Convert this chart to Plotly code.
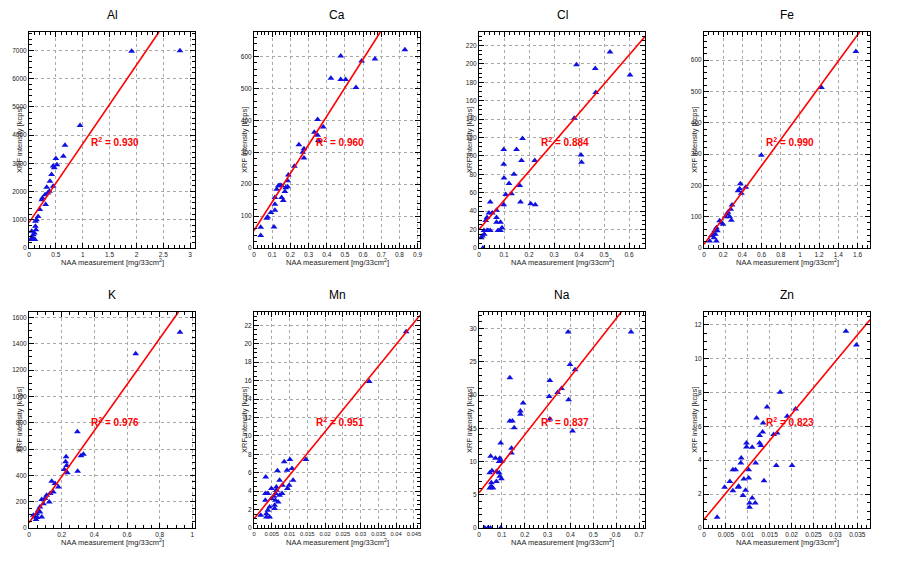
import plotly.graph_objects as go
from plotly.subplots import make_subplots

elements = ["Al", "Ca", "Cl", "Fe", "K", "Mn", "Na", "Zn"]
r2_labels = ["0.930", "0.960", "0.884", "0.990", "0.976", "0.951", "0.837", "0.823"]

# NAA measurement [mg/33cm2] vs XRF intensity [kcps]
al_naa = [1.91, 2.81, 0.95, 0.67, 0.64, 0.50, 0.52, 0.47, 0.42, 0.39, 0.45, 0.33, 0.38, 0.30, 0.31,
          0.25, 0.20, 0.17, 0.14, 0.12, 0.10, 0.07, 0.03, 0.11, 0.05, 0.08, 0.12, 0.24, 0.35, 0.45, 0.13]
al_xrf = [6970, 6990, 4340, 3640, 3250, 3170, 2950, 2840, 2600, 2360, 2190, 2150, 2010, 1890, 1540,
          1770, 1360, 1120, 1000, 770, 530, 350, 300, 300, 590, 470, 945, 1710, 1950, 2900, 650]

ca_naa = [0.830, 0.477, 0.592, 0.665, 0.423, 0.477, 0.504, 0.561, 0.350, 0.332, 0.381, 0.350, 0.247,
          0.275, 0.268, 0.275, 0.222, 0.189, 0.185, 0.143, 0.152, 0.174, 0.185, 0.170, 0.152, 0.161,
          0.125, 0.115, 0.115, 0.115, 0.093, 0.075, 0.070, 0.110, 0.037, 0.037, 0.134, 0.354]
ca_xrf = [621, 602, 586, 592, 532, 528, 528, 503, 403, 363, 379, 353, 324, 311, 300, 282, 256, 229,
          211, 197, 195, 189, 192, 177, 158, 149, 184, 158, 137, 118, 111, 97, 93, 66, 65, 39, 195, 337]

cl_naa = [0.524, 0.390, 0.465, 0.604, 0.467, 0.381, 0.408, 0.410, 0.174, 0.099, 0.150, 0.099, 0.170,
          0.223, 0.100, 0.140, 0.120, 0.163, 0.130, 0.107, 0.099, 0.166, 0.207, 0.225, 0.045, 0.040,
          0.053, 0.032, 0.070, 0.070, 0.086, 0.076, 0.086, 0.092, 0.027, 0.032, 0.020, 0.013, 0.021,
          0.036, 0.016, 0.009, 0.045, 0.070]
cl_xrf = [213, 199, 195, 188, 169, 141, 101, 93, 119, 107, 107, 91, 95, 95, 76, 80, 70, 68, 59, 58,
          47, 50, 48, 47, 50, 38, 38, 33, 41, 28, 28, 19, 19, 22, 30, 19, 19, 13, 15, 19, 0, 11, 19, 33]

fe_naa = [1.583, 1.224, 0.598, 0.379, 0.372, 0.355, 0.390, 0.435, 0.292, 0.278, 0.250, 0.268, 0.285,
          0.240, 0.223, 0.181, 0.163, 0.198, 0.129, 0.111, 0.094, 0.104, 0.077, 0.059, 0.129, 0.118, 0.139]
fe_xrf = [628, 513, 296, 205, 189, 183, 175, 194, 137, 124, 114, 100, 89, 108, 100, 81, 87, 76, 65,
          55, 44, 33, 39, 22, 22, 44, 55]

k_naa = [0.924, 0.653, 0.296, 0.333, 0.318, 0.227, 0.224, 0.216, 0.235, 0.231, 0.298, 0.139, 0.159,
         0.180, 0.149, 0.129, 0.108, 0.098, 0.078, 0.124, 0.088, 0.067, 0.057, 0.047, 0.037, 0.051,
         0.078, 0.067, 0.027, 0.043]
k_xrf = [1488, 1323, 731, 561, 549, 541, 503, 444, 419, 475, 432, 356, 338, 312, 274, 262, 249, 224,
         216, 198, 185, 160, 135, 109, 84, 79, 84, 122, 97, 64]

mn_naa = [0.0428, 0.0324, 0.0146, 0.0101, 0.0085, 0.0066, 0.0107, 0.0093, 0.0033, 0.0110, 0.0072,
          0.0099, 0.0094, 0.0080, 0.0063, 0.0063, 0.0061, 0.0072, 0.0079, 0.0056, 0.0049, 0.0039,
          0.0032, 0.0032, 0.0060, 0.0058, 0.0058, 0.0044, 0.0039, 0.0035, 0.0035, 0.0044, 0.0019,
          0.0068, 0.0049]
mn_xrf = [21.3, 15.9, 7.44, 7.44, 7.19, 6.21, 6.46, 6.28, 5.55, 5.19, 5.19, 4.65, 4.28, 4.65, 4.46,
          4.10, 3.74, 3.56, 3.74, 3.45, 3.19, 3.74, 3.74, 3.01, 3.01, 2.47, 2.11, 2.29, 1.92, 1.56,
          1.20, 1.20, 1.38, 2.83, 4.28]

na_naa = [0.665, 0.390, 0.398, 0.420, 0.310, 0.135, 0.361, 0.344, 0.307, 0.392, 0.193, 0.181, 0.181,
          0.135, 0.146, 0.154, 0.310, 0.409, 0.095, 0.142, 0.142, 0.051, 0.072, 0.091, 0.088, 0.098,
          0.057, 0.076, 0.047, 0.088, 0.091, 0.098, 0.076, 0.054, 0.054, 0.047, 0.061, 0.025, 0.039,
          0.050, 0.095]
na_xrf = [29.5, 29.5, 24.6, 23.8, 22.2, 22.6, 21.0, 20.4, 19.8, 19.3, 18.8, 17.6, 17.1, 16.1, 16.1,
          15.1, 16.4, 14.6, 12.8, 12.0, 11.3, 10.8, 10.5, 10.5, 10.0, 10.0, 8.6, 8.5, 8.3, 8.3, 7.8,
          7.4, 7.0, 6.8, 6.3, 6.0, 6.0, 0, 0, 0, 0]

zn_naa = [0.0324, 0.0348, 0.0174, 0.0144, 0.0209, 0.0190, 0.0120, 0.0135, 0.0159, 0.0167, 0.0127,
          0.0134, 0.0127, 0.0130, 0.0110, 0.0097, 0.0097, 0.0085, 0.0084, 0.0118, 0.0165, 0.0201,
          0.0066, 0.0072, 0.0102, 0.0059, 0.0091, 0.0102, 0.0137, 0.0047, 0.0078, 0.0079, 0.0066,
          0.0095, 0.0089, 0.0110, 0.0117, 0.0104, 0.0104, 0.0030]
zn_xrf = [11.6, 10.8, 8.0, 7.14, 7.02, 6.59, 6.49, 6.19, 5.51, 5.60, 5.45, 5.66, 5.01, 4.86, 4.76,
          5.01, 4.78, 4.13, 3.83, 3.83, 3.68, 3.68, 3.44, 3.44, 3.44, 2.75, 2.89, 2.95, 2.79, 2.40,
          2.40, 2.46, 2.20, 2.22, 1.91, 1.77, 1.47, 1.47, 1.22, 0.63]

naa = [al_naa, ca_naa, cl_naa, fe_naa, k_naa, mn_naa, na_naa, zn_naa]
xrf = [al_xrf, ca_xrf, cl_xrf, fe_xrf, k_xrf, mn_xrf, na_xrf, zn_xrf]

# linear fit
fit_intercept = [900, 55, 20, 12, 40, 1.0, 5.3, 0.5]
fit_slope = [2790, 895, 316, 418, 1750, 473, 43.7, 311]

x_max = [3.09, 0.913, 0.664, 1.73, 1.016, 0.0467, 0.726, 0.0379]
y_max = [7650, 677, 234.6, 690, 1641, 23.45, 32.5, 12.74]
x_dtick = [0.5, 0.1, 0.1, 0.2, 0.2, 0.005, 0.1, 0.005]
y_dtick = [1000, 100, 20, 100, 200, 2, 5, 2]
x_tick_size = [6.5, 6.5, 6.5, 6.5, 6.5, 5.8, 6.5, 6.5]

# page has an 8px body margin, so figure is drawn offset by 8px
OFF = 8
W, H = 901 - 2 * OFF, 562 - 2 * OFF
col_left = [29, 254, 479, 704]
row_top = [32, 312]
pw, ph = 166, 216


def px(sx):
    return (sx - OFF) / W


def py(sy):
    return 1 - (sy - OFF) / H


font = "Liberation Sans Narrow, Liberation Sans, Arial"
fig = make_subplots(rows=2, cols=4)

for i, el in enumerate(elements):
    r, c = i // 4 + 1, i % 4 + 1
    fig.add_trace(go.Scatter(x=naa[i], y=xrf[i], mode="markers",
                             marker=dict(symbol="triangle-up", size=6, color="#1010e0"),
                             showlegend=False), row=r, col=c)
    b, m = fit_intercept[i], fit_slope[i]
    x_end = min(x_max[i], (y_max[i] - b) / m)
    fig.add_trace(go.Scatter(x=[0, x_end], y=[b, b + m * x_end], mode="lines",
                             line=dict(color="#ff0000", width=1.6), showlegend=False),
                  row=r, col=c)

    left, top = col_left[i % 4], row_top[i // 4]
    ax = dict(showline=True, linecolor="black", linewidth=1, mirror="ticks", automargin=False,
              showgrid=True, gridcolor="#a8a8a8", griddash="dot", gridwidth=1,
              ticks="inside", ticklen=5, tickcolor="black", zeroline=False,
              minor=dict(ticks="inside", ticklen=3, nticks=5, tickcolor="black", showgrid=False))
    fig.update_xaxes(ax, domain=[px(left), px(left + pw)], range=[0, x_max[i]],
                     tick0=0, dtick=x_dtick[i],
                     tickfont=dict(size=x_tick_size[i], color="#222", family=font), row=r, col=c)
    fig.update_yaxes(ax, domain=[py(top + ph), py(top)], range=[0, y_max[i]],
                     tick0=0, dtick=y_dtick[i],
                     tickfont=dict(size=6.5, color="#222", family=font), row=r, col=c)

    cx = px(left + pw / 2)
    fig.add_annotation(text=el, x=cx, y=py(top - 17), xref="paper", yref="paper",
                       xanchor="center", yanchor="middle", showarrow=False,
                       font=dict(size=12, color="black", family="Liberation Sans"))
    fig.add_annotation(text="NAA measurement [mg/33cm<sup>2</sup>]", x=cx, y=py(top + ph + 14),
                       xref="paper", yref="paper", xanchor="center", yanchor="middle",
                       showarrow=False, font=dict(size=7.5, color="#222", family=font))
    fig.add_annotation(text="XRF intensity [kcps]", x=px(left - 10), y=py(top + 108),
                       xref="paper", yref="paper", xanchor="center", yanchor="middle",
                       showarrow=False, textangle=-90,
                       font=dict(size=7.5, color="#222", family=font))
    fig.add_annotation(text="<b>R<sup>2</sup> = " + r2_labels[i] + "</b>", x=px(left + 60),
                       y=py(top + 110), xref="paper", yref="paper", xanchor="left",
                       yanchor="middle", showarrow=False,
                       font=dict(size=10, color="#ff0000", family="Liberation Sans"))

fig.update_layout(width=W, height=H, margin=dict(l=0, r=0, t=0, b=0),
                  paper_bgcolor="white", plot_bgcolor="white")
fig.write_html("out.html")
